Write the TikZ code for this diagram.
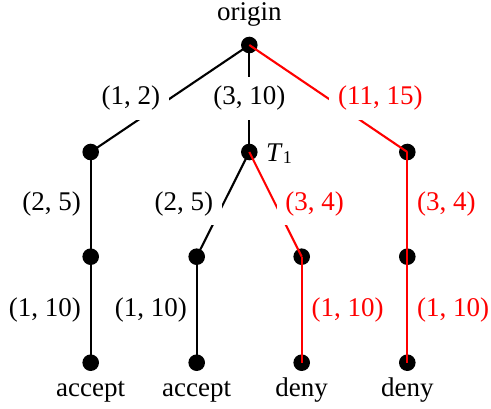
\documentclass[tikz,border=0pt]{standalone}
\usepackage{fontspec}
\setmainfont{Liberation Serif}
\begin{document}
\begin{tikzpicture}[x=1pt,y=-1pt, font=\fontsize{27}{32}\selectfont,
  dot/.style={circle, fill=black, inner sep=0pt, minimum size=16.6pt},
  edgeline/.style={line width=2.1pt},
  hot/.style={red},
  lab/.style={fill=white, inner sep=8.8pt},
  txt/.style={inner sep=0pt}]
\useasboundingbox (0,0) rectangle (491,408);
% vertices
\node[dot] (r)   at (249.3,45) {};
\node[dot] (a)   at (90.7,152) {};
\node[dot] (b)   at (249.3,152) {};
\node[dot] (c)   at (407.3,152) {};
\node[dot] (a2)  at (90.7,256.7) {};
\node[dot] (b1)  at (196.7,256.7) {};
\node[dot] (b2)  at (301.7,256.7) {};
\node[dot] (c2)  at (407.3,256.7) {};
\node[dot] (a3)  at (90.7,362.7) {};
\node[dot] (b13) at (196.7,362.7) {};
\node[dot] (b23) at (301.7,362.7) {};
\node[dot] (c3)  at (407.3,362.7) {};
% edges
\draw[edgeline] (r.center) -- (a.center) node[midway, lab, anchor=east] {(1, 2)};
\draw[edgeline] (r.center) -- (b.center) node[midway, lab] {(3, 10)};
\draw[edgeline, hot] (r.center) -- (c.center) node[midway, lab, anchor=west] {(11, 15)};
\draw[edgeline] (a.center) -- (a2.center) node[midway, lab, anchor=east] {(2, 5)};
\draw[edgeline] (a2.center) -- (a3.center) node[midway, lab, anchor=east] {(1, 10)};
\draw[edgeline] (b.center) -- (b1.center) node[midway, lab, anchor=east] {(2, 5)};
\draw[edgeline] (b1.center) -- (b13.center) node[midway, lab, anchor=east] {(1, 10)};
\draw[edgeline, hot] (b.center) -- (b2.center) node[midway, lab, anchor=west] {(3, 4)};
\draw[edgeline, hot] (b2.center) -- (b23.center) node[midway, lab, anchor=west] {(1, 10)};
\draw[edgeline, hot] (c.center) -- (c2.center) node[midway, lab, anchor=west] {(3, 4)};
\draw[edgeline, hot] (c2.center) -- (c3.center) node[midway, lab, anchor=west] {(1, 10)};
% texts
\node[txt, anchor=base] (ot) at (249.3,20) {origin};
\node[txt, anchor=base west] (tt) at (266,161) {\textit{T}\raisebox{-2pt}{\fontsize{18}{20}\selectfont 1}};
\node[txt, anchor=base] (l1) at (90.7,396.5) {accept};
\node[txt, anchor=base] (l2) at (196.7,396.5) {accept};
\node[txt, anchor=base] (l3) at (301.7,396.5) {deny};
\node[txt, anchor=base] (l4) at (407.3,396.5) {deny};
\end{tikzpicture}
\end{document}
